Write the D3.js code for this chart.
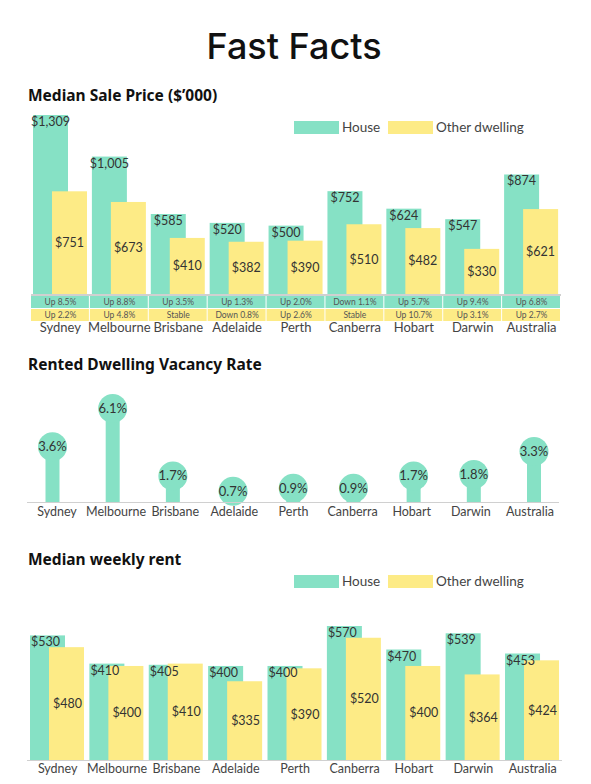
<!DOCTYPE html>
<html>
<head>
<meta charset="utf-8">
<script src="https://cdn.jsdelivr.net/npm/d3@7"></script>
<style>
  body { margin: 0; background: #fff; }
  text { font-family: "Lato", sans-serif; fill: #333; }
  .title { font-family: "Inter", sans-serif; font-weight: 500; fill: #111; }
  .section { font-family: "Noto Sans", sans-serif; font-weight: 700; fill: #111; }
  .legend, .cat { fill: #444; }
  .change { fill: #555; }
</style>
</head>
<body>
<div id="vis"></div>
<script>
////////////////////////////////////////
/////////////// Data ///////////////////
////////////////////////////////////////

const cities = ["Sydney", "Melbourne", "Brisbane", "Adelaide", "Perth", "Canberra", "Hobart", "Darwin", "Australia"];

// median sale price ($'000)
const saleHouse = [1309, 1005, 585, 520, 500, 752, 624, 547, 874];
const saleOther = [751, 673, 410, 382, 390, 510, 482, 330, 621];
const changeHouse = ["Up 8.5%", "Up 8.8%", "Up 3.5%", "Up 1.3%", "Up 2.0%", "Down 1.1%", "Up 5.7%", "Up 9.4%", "Up 6.8%"];
const changeOther = ["Up 2.2%", "Up 4.8%", "Stable", "Down 0.8%", "Up 2.6%", "Stable", "Up 10.7%", "Up 3.1%", "Up 2.7%"];

// rented dwelling vacancy rate (%)
const vacancy = [3.6, 6.1, 1.7, 0.7, 0.9, 0.9, 1.7, 1.8, 3.3];

// median weekly rent ($)
const rentHouse = [530, 410, 405, 400, 400, 570, 470, 539, 453];
const rentOther = [480, 400, 410, 335, 390, 520, 400, 364, 424];

const legendItems = ["House", "Other dwelling"];

////////////////////////////////////////
/////////////// Setup //////////////////
////////////////////////////////////////

const options = {
  width: 591,
  height: 784,
  house: "#86e1c5",
  other: "#fdeb86",
  axis: "#d0d0d0",
  barWidth: 35,
  barOffset: 19,
  inset: 2,
};

const svg = d3.select("#vis")
  .append("svg")
  .attr("width", options.width)
  .attr("height", options.height);

svg.append("text")
  .attr("class", "title")
  .attr("x", 294)
  .attr("y", 59)
  .attr("text-anchor", "middle")
  .style("font-size", "36px")
  .text("Fast Facts");

function sectionTitle(label, y) {
  svg.append("text")
    .attr("class", "section")
    .attr("x", 28)
    .attr("y", y)
    .style("font-size", "15.5px")
    .text(label);
}

function legend(y) {
  const g = svg.append("g").attr("transform", `translate(294,${y})`);
  const items = g.selectAll("g")
    .data(legendItems)
    .join("g")
    .attr("transform", (d, i) => `translate(${i * 94},0)`);
  items.append("rect")
    .attr("width", 45)
    .attr("height", 13)
    .attr("fill", (d, i) => (i === 0 ? options.house : options.other));
  items.append("text")
    .attr("class", "legend")
    .attr("x", 48)
    .attr("y", 11)
    .style("font-size", "13.5px")
    .text((d) => d);
}

// grouped bars, returns x band scale
function groupedBars(house, other, cfg) {
  const x = d3.scaleBand().domain(cities).range(cfg.xRange);
  const y = d3.scaleLinear().domain([0, cfg.maxVal]).range([cfg.base, cfg.maxY]);

  const rows = cities.map((c, i) => ({ city: c, house: house[i], other: other[i] }));

  const g = svg.append("g");

  g.selectAll(".house")
    .data(rows)
    .join("rect")
    .attr("x", (d) => x(d.city) + options.inset)
    .attr("y", (d) => y(d.house))
    .attr("width", options.barWidth)
    .attr("height", (d) => cfg.base - y(d.house))
    .attr("fill", options.house);

  g.selectAll(".other")
    .data(rows)
    .join("rect")
    .attr("x", (d) => x(d.city) + options.inset + options.barOffset)
    .attr("y", (d) => y(d.other))
    .attr("width", options.barWidth)
    .attr("height", (d) => cfg.base - y(d.other))
    .attr("fill", options.other);

  // house labels at top of bar
  g.selectAll(".hl")
    .data(rows)
    .join("text")
    .attr("x", (d) => x(d.city) + options.inset + (cfg.houseCentered ? options.barWidth / 2 : 1))
    .attr("y", (d) => y(d.house) + 11)
    .attr("text-anchor", cfg.houseCentered ? "middle" : "start")
    .style("font-size", "12.5px")
    .text((d) => cfg.fmt(d.house));

  // other labels mid bar
  g.selectAll(".ol")
    .data(rows)
    .join("text")
    .attr("x", (d) => x(d.city) + options.inset + options.barOffset +
      (cfg.otherRight ? options.barWidth - 2 : options.barWidth / 2))
    .attr("y", (d) => (y(d.other) + cfg.base) / 2)
    .attr("dy", "0.35em")
    .attr("text-anchor", cfg.otherRight ? "end" : "middle")
    .style("font-size", "12.5px")
    .text((d) => cfg.fmt(d.other));

  return x;
}

const money = (v) => "$" + d3.format(",")(v);

////////////////////////////////////////
////////// Median sale price ///////////
////////////////////////////////////////

sectionTitle("Median Sale Price ($\u2019000)", 101);
legend(121);

const xSale = groupedBars(saleHouse, saleOther, {
  xRange: [31, 561],
  base: 294,
  maxVal: 1309,
  maxY: 115,
  houseCentered: true,
  otherRight: false,
  fmt: money,
});

svg.append("rect")
  .attr("x", 31)
  .attr("y", 294)
  .attr("width", 530)
  .attr("height", 2)
  .attr("fill", options.axis);

// change table rows
[[changeHouse, options.house, 296], [changeOther, options.other, 309]].forEach(([vals, col, y0]) => {
  const cells = svg.append("g")
    .selectAll("g")
    .data(cities.map((c, i) => ({ city: c, v: vals[i] })))
    .join("g")
    .attr("transform", (d) => `translate(${xSale(d.city)},${y0})`);
  cells.append("rect")
    .attr("width", xSale.bandwidth() - 1)
    .attr("height", 12)
    .attr("fill", col);
  cells.append("text")
    .attr("class", "change")
    .attr("x", xSale.bandwidth() / 2)
    .attr("y", 9)
    .attr("text-anchor", "middle")
    .style("font-size", "8.5px")
    .text((d) => d.v);
});

svg.append("g")
  .selectAll("text")
  .data(cities)
  .join("text")
  .attr("class", "cat")
  .attr("x", (d) => xSale(d) + xSale.bandwidth() / 2)
  .attr("y", 332)
  .attr("text-anchor", "middle")
  .style("font-size", "13px")
  .text((d) => d);

////////////////////////////////////////
/////////// Vacancy rate ///////////////
////////////////////////////////////////

sectionTitle("Rented Dwelling Vacancy Rate", 370);

const vBase = 502;
const xVac = d3.scalePoint().domain(cities).range([52.5, 534]);
const xVacLabel = d3.scalePoint().domain(cities).range([57, 530]);
const yVac = d3.scaleLinear().domain([0, 6.1]).range([vBase, 408.5]);

const vac = svg.append("g")
  .selectAll("g")
  .data(cities.map((c, i) => ({ city: c, v: vacancy[i] })))
  .join("g");

vac.append("rect")
  .attr("x", (d) => xVac(d.city) - 7)
  .attr("y", (d) => yVac(d.v))
  .attr("width", 14)
  .attr("height", (d) => vBase - yVac(d.v))
  .attr("fill", options.house);

vac.append("circle")
  .attr("cx", (d) => xVac(d.city))
  .attr("cy", (d) => yVac(d.v))
  .attr("r", 14.5)
  .attr("fill", options.house);

vac.append("text")
  .attr("x", (d) => xVac(d.city))
  .attr("y", (d) => yVac(d.v))
  .attr("dy", "0.35em")
  .attr("text-anchor", "middle")
  .style("font-size", "13px")
  .text((d) => d.v.toFixed(1) + "%");

svg.append("rect")
  .attr("x", 27)
  .attr("y", vBase)
  .attr("width", 532)
  .attr("height", 1)
  .attr("fill", options.axis);

svg.append("g")
  .selectAll("text")
  .data(cities)
  .join("text")
  .attr("class", "cat")
  .attr("x", (d) => xVacLabel(d))
  .attr("y", 516)
  .attr("text-anchor", "middle")
  .style("font-size", "12.5px")
  .text((d) => d);

////////////////////////////////////////
/////////// Weekly rent ////////////////
////////////////////////////////////////

sectionTitle("Median weekly rent", 565);
legend(575);

const xRent = groupedBars(rentHouse, rentOther, {
  xRange: [28, 562.4],
  base: 760,
  maxVal: 570,
  maxY: 626,
  houseCentered: false,
  otherRight: true,
  fmt: money,
});

svg.append("rect")
  .attr("x", 27)
  .attr("y", 760)
  .attr("width", 535)
  .attr("height", 1)
  .attr("fill", options.axis);

svg.append("g")
  .selectAll("text")
  .data(cities)
  .join("text")
  .attr("class", "cat")
  .attr("x", (d) => xRent(d) + xRent.bandwidth() / 2)
  .attr("y", 773)
  .attr("text-anchor", "middle")
  .style("font-size", "12.5px")
  .text((d) => d);
</script>
</body>
</html>
